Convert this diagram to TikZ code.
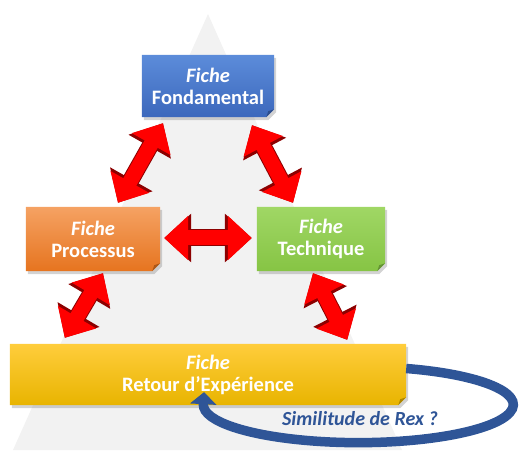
\documentclass[tikz,border=0pt]{standalone}
\usepackage{fontspec}
\setmainfont{Carlito}
\usetikzlibrary{arrows.meta,shadows}

\definecolor{fondtop}{HTML}{5C8CDA}
\definecolor{fondbot}{HTML}{3C68BC}
\definecolor{proctop}{HTML}{F5A263}
\definecolor{procbot}{HTML}{E6741F}
\definecolor{techtop}{HTML}{A0D765}
\definecolor{techbot}{HTML}{86C444}
\definecolor{rextop}{HTML}{FFCD3C}
\definecolor{rexbot}{HTML}{E8B400}
\definecolor{rexblue}{HTML}{2F5597}

\pgfdeclarelayer{back}
\pgfdeclarelayer{cards}
\pgfsetlayers{back,cards,main}

\tikzset{
  fiche/.style={text=white, align=center, inner sep=0pt,
    font=\fontsize{20.5}{22}\selectfont\bfseries},
  redarrow/.style={line width=15pt, red,
    arrows={Triangle[width=43pt,length=24pt]-Triangle[width=43pt,length=24pt]},
    preaction={draw=red!55!black, line width=17pt,
      arrows={Triangle[width=47pt,length=27pt]-Triangle[width=47pt,length=27pt]}}},
  rexloop/.style={draw=rexblue, line width=9.5pt,
    arrows={-Triangle[width=26pt,length=12pt]}},
  rexlabel/.style={text=rexblue, font=\fontsize{20}{22}\selectfont\bfseries\itshape}
}

% carte avec coin plie
\newcommand{\fichecard}[3]{%
  \begin{pgfonlayer}{cards}
  \path[drop shadow={opacity=.35, shadow xshift=2pt, shadow yshift=-3pt},
    top color=#2, bottom color=#3]
    (#1.north west) -- (#1.north east) -- ([yshift=8pt]#1.south east)
    -- ([xshift=-8pt]#1.south east) -- (#1.south west) -- cycle;
  \fill[#3!75!black] ([yshift=8pt]#1.south east) -- ([xshift=-8pt]#1.south east)
    -- ([xshift=-6pt,yshift=6pt]#1.south east) -- cycle;
  \end{pgfonlayer}}

\begin{document}
\begin{tikzpicture}[x=1pt,y=1pt]
\useasboundingbox (0,0) rectangle (519,450);
% triangle de fond
\begin{pgfonlayer}{back}
\fill[black!5] (13,0) -- (208,436) -- (402,0) -- cycle;
\end{pgfonlayer}

% les fiches
\node[fiche, minimum width=132pt, minimum height=62pt] (fond) at (208,364) {\textit{Fiche}\\Fondamental};
\node[fiche, minimum width=134pt, minimum height=64pt] (proc) at (93,211) {\textit{Fiche}\\Processus};
\node[fiche, minimum width=128pt, minimum height=64pt] (tech) at (321,211) {\textit{Fiche}\\Technique};
\node[fiche, minimum width=396pt, minimum height=61pt] (retour) at (208,75.5) {\textit{Fiche}\\Retour d’Expérience};
\fichecard{fond}{fondtop}{fondbot}
\fichecard{proc}{proctop}{procbot}
\fichecard{tech}{techtop}{techbot}
\fichecard{retour}{rextop}{rexbot}

% fleches doubles
\draw[redarrow] ([xshift=-45pt,yshift=-6pt]fond.south) -- ([xshift=25pt,yshift=4pt]proc.north);
\draw[redarrow] ([xshift=44pt,yshift=-8pt]fond.south) -- ([xshift=-28pt,yshift=4pt]tech.north);
\draw[redarrow] ([xshift=4pt,yshift=1pt]proc.east) -- ([xshift=-5pt,yshift=1pt]tech.west);
\draw[redarrow] ([xshift=10pt,yshift=-2pt]proc.south) -- ([xshift=55pt,yshift=6pt]retour.north west);
\draw[redarrow] ([xshift=-8pt,yshift=-2pt]tech.south) -- ([xshift=-59pt,yshift=4pt]retour.north east);

% boucle REX
\draw[rexloop] ([yshift=6pt]retour.east) arc[start angle=72, end angle=-180, x radius=155pt, y radius=38pt]
  -- ([xshift=-4pt,yshift=13pt]retour.south);
\node[rexlabel] (rex) at (360,31) {Similitude de Rex ?};
\end{tikzpicture}
\end{document}
